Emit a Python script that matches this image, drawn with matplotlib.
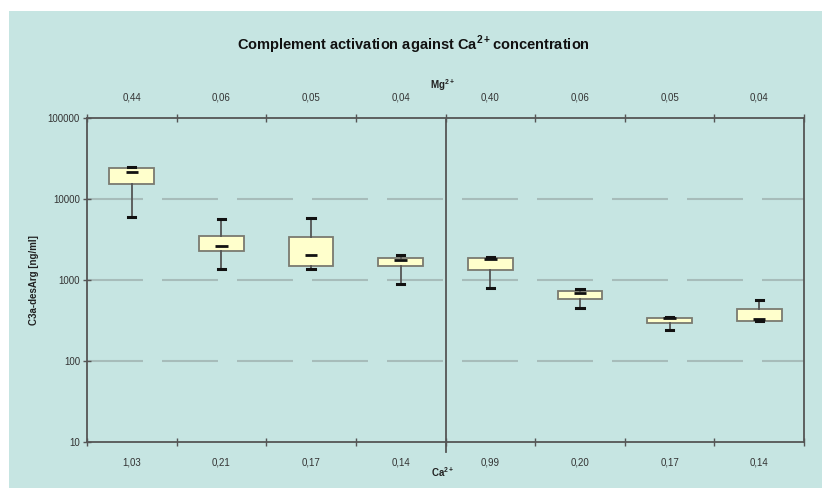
import matplotlib
matplotlib.use('Agg')
import matplotlib.pyplot as plt
from matplotlib.patches import Rectangle

plt.rcParams['font.family'] = ['Liberation Sans', 'DejaVu Sans']
plt.rcParams['mathtext.fontset'] = 'custom'
plt.rcParams['mathtext.rm'] = 'Liberation Sans'
plt.rcParams['mathtext.bf'] = 'Liberation Sans:bold'
plt.rcParams['lines.scale_dashes'] = False

# box statistics (ng/ml)
ca_labels = ['1,03', '0,21', '0,17', '0,14', '0,99', '0,20', '0,17', '0,14']
mg_labels = ['0,44', '0,06', '0,05', '0,04', '0,40', '0,06', '0,05', '0,04']
q1 = [15200, 2250, 1500, 1500, 1340, 578, 292, 315]
med = [21400, 2620, 2010, 1760, 1840, 700, 340, 327]
q3 = [24000, 3460, 3390, 1860, 1860, 741, 343, 444]
lo = [5940, 1360, 1380, 905, 807, 448, 239, 315]
hi = [24600, 5730, 5890, 2030, 1940, 778, 350, 569]
grid_vals = [100, 1000, 10000]

bg = '#c6e5e2'
fig = plt.figure(figsize=(8.22, 4.90), dpi=100, facecolor='white')
fig.add_artist(Rectangle((9 / 822, 2 / 490), 813 / 822, 477 / 490,
                         transform=fig.transFigure, facecolor=bg,
                         edgecolor='none', zorder=-5))
ax = fig.add_axes([87 / 822, (490 - 442) / 490, 717 / 822, 324 / 490])
ax.set_facecolor(bg)
ax.set_yscale('log')
ax.set_ylim(10, 100000)
ax.set_xlim(0.5, 8.5)

pos = list(range(1, 9))
for g in grid_vals:
    ax.axhline(g, color='#a7bcba', lw=1.5, dashes=(40.3, 13.7), zorder=1)

stats = [dict(q1=a, med=m, q3=b, whislo=l, whishi=h)
         for a, m, b, l, h in zip(q1, med, q3, lo, hi)]
ax.bxp(stats, positions=pos, widths=0.5, capwidths=0.08, showfliers=False,
       patch_artist=True,
       boxprops=dict(facecolor='#ffffcc', edgecolor='#7a7a70', lw=1.3),
       whiskerprops=dict(color='#555555', lw=1.3),
       capprops=dict(color='#111111', lw=2.2),
       medianprops=dict(visible=False), zorder=3)
ax.hlines(med, [p - 0.07 for p in pos], [p + 0.07 for p in pos],
          color='#111111', lw=2.0, zorder=4)

# divider between the two series
ax.plot([4.5, 4.5], [100000, 10], color='#555555', lw=1.3, zorder=2)
ax.plot([4.5, 4.5], [10, 10 * 10 ** (-10 / 81)], color='#555555', lw=1.3,
        clip_on=False)

for s in ax.spines.values():
    s.set_color('#555555')
    s.set_linewidth(1.3)

ax.set_yticks([10, 100, 1000, 10000, 100000])
ax.set_yticklabels(['10', '100', '1000', '10000', '100000'])
ax.minorticks_off()
ax.tick_params(axis='y', direction='inout', length=6, width=1, color='#555555',
               labelsize=7, labelcolor='#333333', pad=2)

bounds = [i + 0.5 for i in range(9)]
ax.set_xticks(bounds)
ax.set_xticklabels([])
ax.set_xticks(pos, minor=True)
ax.set_xticklabels(ca_labels, minor=True)
ax.tick_params(axis='x', which='major', direction='inout', length=6,
               width=1, color='#555555', top=True)
ax.tick_params(axis='x', which='minor', length=0, labelsize=7,
               labelcolor='#333333', pad=11)

top = ax.secondary_xaxis('top')
top.set_xticks(pos)
top.set_xticklabels(mg_labels)
top.tick_params(length=0, labelsize=7, labelcolor='#333333', pad=11)
top.spines['top'].set_visible(False)

ax.set_ylabel('C3a-desArg [ng/ml]', fontsize=7, fontweight='bold',
              color='#222222', labelpad=6)
fig.text(443 / 822, 1 - 472 / 490, r'Ca$^{\mathbf{2+}}$', fontsize=7,
         fontweight='bold', ha='center', va='center', color='#222222')
fig.text(443 / 822, 1 - 85 / 490, r'Mg$^{\mathbf{2+}}$', fontsize=7,
         fontweight='bold', ha='center', va='center', color='#222222')
fig.text(413 / 822, 1 - 45 / 490,
         r'Complement activation against Ca$^{\mathbf{2+}}$concentration',
         fontsize=10.5, fontweight='bold', ha='center', va='center',
         color='#111111')

fig.savefig('out.png', dpi=100, facecolor='white')
